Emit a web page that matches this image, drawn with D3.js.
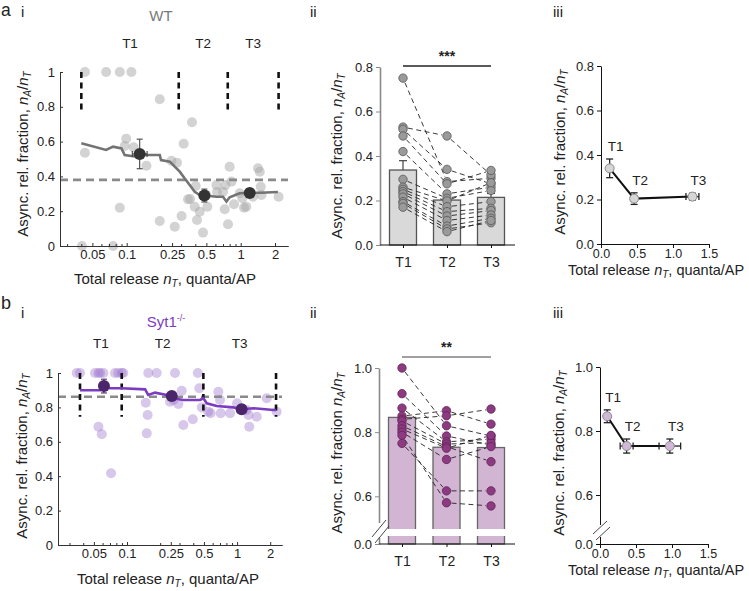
<!DOCTYPE html>
<html><head><meta charset="utf-8">
<script src="https://cdn.jsdelivr.net/npm/d3@7"></script>
<style>
body{margin:0;background:#fff}
text{font-family:"Liberation Sans",Arial,sans-serif;fill:#222}
</style>
</head><body><script>
// ================= DATA =================
const tLabels = ["T1","T2","T3"];

// a-i  WT: individual synapses (total release nT, async fraction)
const wtNT   = [0.043,0.066,0.087,0.110,0.195,0.374,0.316,0.099,0.096,0.115,0.043,0.149,0.247,0.276,0.087,0.195,0.264,0.303,0.414,0.467,0.774,0.0405,0.076,0.345,0.36,0.403,0.395,0.437,0.51,0.612,0.70,0.734,0.80,0.83,0.724,0.873,0.98,1.035,1.07,1.12,1.28,1.42,1.47,1.50,1.52,2.15,0.50,0.62];
const wtFrac = [1,1,1,1,0.843,0.711,0.588,0.617,0.575,0.567,0.536,0.461,0.49,0.479,0.22,0.144,0.111,0.172,0.149,0.077,0.125,0,0,0.268,0.27,0.345,0.226,0.197,0.226,0.35,0.312,0.35,0.456,0.37,0.211,0.24,0.303,0.274,0.22,0.226,0.283,0.447,0.427,0.341,0.293,0.283,0.293,0.31];
// a-i running average
const wtRunNT   = [0.040,0.066,0.076,0.090,0.096,0.122,0.144,0.195,0.20,0.239,0.264,0.292,0.322,0.357,0.395,0.437,0.535,0.612,0.70,0.75,0.80,0.98,1.2,1.5,2.12];
const wtRunFrac = [0.59,0.552,0.571,0.561,0.523,0.513,0.523,0.523,0.494,0.485,0.456,0.427,0.389,0.351,0.312,0.293,0.287,0.283,0.283,0.255,0.28,0.303,0.306,0.306,0.31];
// a-i bin means
const wtMeanNT    = [0.13,0.48,1.2];
const wtMeanFrac  = [0.529,0.29,0.305];
const wtMeanErr   = [0.085,0.037,0.012];
const wtMeanNTLo  = [0.112,0.47,1.17];
const wtMeanNTHi  = [0.151,0.49,1.23];
const wtBounds    = [0.040,0.286,0.77,2.15];
const wtGrandMean = 0.38;

// a-ii WT paired per-cell values
const wtT1 = [0.75,0.53,0.52,0.49,0.42,0.295,0.26,0.25,0.24,0.23,0.215,0.195,0.187,0.17];
const wtT2 = [0.285,0.49,0.34,0.275,0.23,0.21,0.198,0.172,0.15,0.13,0.11,0.085,0.072,0.06];
const wtT3 = [0.30,0.315,0.275,0.335,0.26,0.245,0.28,0.195,0.165,0.155,0.135,0.12,0.10,0.11];
const wtBarMean = [0.337,0.202,0.214];
const wtBarErr  = [0.042,0.028,0.018];

// a-iii WT summary
const wtSumNT      = [0.12,0.46,1.27];
const wtSumNTErr   = [0.01,0.04,0.09];
const wtSumFrac    = [0.34,0.204,0.213];
const wtSumFracErr = [0.042,0.026,0.015];

// b-i Syt1-/- individual synapses
const sytNT   = [0.0349,0.0374,0.0512,0.055,0.057,0.061,0.0778,0.0834,0.0895,0.0925,0.156,0.186,0.273,0.44,0.454,0.314,0.264,0.293,0.246,0.148,0.154,0.151,0.325,0.396,0.478,0.548,0.575,0.676,0.70,0.71,0.864,1.0,1.22,1.27,1.29,1.51,1.86,2.29,0.055,0.059,0.0716];
const sytFrac = [1,1,1,1,1,1,1,1,1,1,1,1,1,1,0.911,0.897,0.843,0.82,0.833,0.827,0.756,0.649,0.698,0.731,0.80,0.775,0.766,0.891,0.843,0.766,0.766,0.824,0.785,0.756,0.688,0.746,0.853,0.775,0.688,0.644,0.417];
const sytRunNT   = [0.0374,0.0569,0.063,0.070,0.0895,0.146,0.156,0.18,0.23,0.264,0.325,0.461,0.494,0.53,0.653,0.925,1.10,1.41,2.14,2.26];
const sytRunFrac = [0.90,0.90,0.924,0.911,0.911,0.905,0.872,0.886,0.872,0.853,0.843,0.843,0.853,0.824,0.808,0.80,0.789,0.795,0.785,0.785];
const sytMeanNT   = [0.0617,0.255,1.10];
const sytMeanFrac = [0.924,0.866,0.789];
const sytMeanErr  = [0.04,0.02,0.012];
const sytMeanNTLo = [0.059,0.245,1.06];
const sytMeanNTHi = [0.064,0.265,1.14];
const sytBounds   = [0.0374,0.0895,0.494,2.26];
const sytGrandMean = 0.862;

// b-ii Syt1-/- paired per-cell values
const sytT1 = [1.0,0.92,0.875,0.85,0.84,0.835,0.82,0.81,0.80,0.79,0.765];
const sytT2 = [0.82,0.788,0.77,0.867,0.851,0.763,0.755,0.75,0.715,0.58,0.617];
const sytT3 = [0.788,0.76,0.778,0.825,0.872,0.767,0.708,0.79,0.755,0.57,0.617];
const sytBarMean = [0.846,0.753,0.752];

// b-iii Syt1-/- summary
const sytSumNT      = [0.10,0.37,0.97];
const sytSumNTErr   = [0.02,0.09,0.15];
const sytSumFrac    = [0.846,0.753,0.753];
const sytSumFracErr = [0.02,0.022,0.022];

const logTicks   = [0.05,0.1,0.25,0.5,1,2];
const logMinor   = [0.03,0.04,0.06,0.07,0.08,0.09,0.2,0.3,0.4,0.6,0.7,0.8,0.9];
const linTicks   = [0,0.5,1,1.5];

// ================= DRAWING =================
const FONT = '"Liberation Sans",Arial,sans-serif';
const svg = d3.select("body").append("svg").attr("width",749).attr("height",591).style("display","block");

function txt(x,y,s,size,anchor,color){
  return svg.append("text").attr("x",x).attr("y",y).attr("text-anchor",anchor||"start")
    .style("font-size",size+"px").style("fill",color||"#222").text(s);
}
txt(1,16,"a",17.5); txt(21,17,"i",15); txt(310,17,"ii",15); txt(553,17,"iii",15);
txt(1,309,"b",18); txt(21,318,"i",15); txt(310,318,"ii",15); txt(553,318,"iii",15);

function fracLabel(x,y,sep){
  const t = svg.append("text").attr("transform",`translate(${x},${y}) rotate(-90)`)
    .attr("text-anchor","middle").style("font-size","15px");
  t.append("tspan").text("Async. rel. fraction"+sep);
  t.append("tspan").style("font-style","italic").text("n");
  t.append("tspan").attr("dy",3).style("font-size","10px").style("font-style","italic").text("A");
  t.append("tspan").attr("dy",-3).text("/");
  t.append("tspan").style("font-style","italic").text("n");
  t.append("tspan").attr("dy",3).style("font-size","10px").style("font-style","italic").text("T");
}
function releaseLabel(x,y,fs){
  const t = svg.append("text").attr("x",x).attr("y",y).attr("text-anchor","middle").style("font-size",(fs||15)+"px");
  t.append("tspan").text("Total release ");
  t.append("tspan").style("font-style","italic").text("n");
  t.append("tspan").attr("dy",3).style("font-size","10px").style("font-style","italic").text("T");
  t.append("tspan").attr("dy",-3).text(", quanta/AP");
}
function styleAxis(g,color,fs){
  g.attr("font-size",fs).attr("font-family",FONT);
  g.select(".domain").attr("stroke",color);
  g.selectAll(".tick line").attr("stroke",color);
}

// ---- log-scale scatter panels (a-i, b-i) ----
function logPanel(o){
  const x = d3.scaleLog().domain(o.xDomain).range(o.xRange);
  const y = d3.scaleLinear().domain([0,1]).range(o.yRange);
  const g = svg.append("g");
  g.selectAll(null).data(o.nt).join("circle")
    .attr("cx",d=>x(d)).attr("cy",(d,i)=>y(o.frac[i])).attr("r",5)
    .attr("fill",o.dotFill).attr("fill-opacity",o.dotOpacity);
  g.append("line").attr("x1",o.xRange[0]).attr("x2",o.xRange[1])
    .attr("y1",y(o.grand)).attr("y2",y(o.grand))
    .attr("stroke","#8a8a8a").attr("stroke-width",2.6).attr("stroke-dasharray","8,5");
  g.selectAll(null).data(o.bounds).join("line")
    .attr("x1",d=>x(d)).attr("x2",d=>x(d)).attr("y1",y(1)).attr("y2",y(o.boundLow))
    .attr("stroke","#111").attr("stroke-width",2.6).attr("stroke-dasharray","6,4.5");
  g.append("path").datum(o.runNT)
    .attr("d",d3.line().x(d=>x(d)).y((d,i)=>y(o.runFrac[i])))
    .attr("fill","none").attr("stroke",o.lineColor).attr("stroke-width",2.6);
  o.meanNT.forEach((m,i)=>{
    const cx=x(m), yl=y(o.meanFrac[i]-o.meanErr[i]), yh=y(o.meanFrac[i]+o.meanErr[i]);
    const cy=y(o.meanFrac[i]), xl=x(o.meanLo[i]), xh=x(o.meanHi[i]);
    const eg=g.append("g").attr("stroke",o.errColor).attr("stroke-width",1.1);
    eg.append("line").attr("x1",cx).attr("x2",cx).attr("y1",yl).attr("y2",yh);
    eg.append("line").attr("x1",cx-3).attr("x2",cx+3).attr("y1",yl).attr("y2",yl);
    eg.append("line").attr("x1",cx-3).attr("x2",cx+3).attr("y1",yh).attr("y2",yh);
    eg.append("line").attr("x1",xl).attr("x2",xh).attr("y1",cy).attr("y2",cy);
    eg.append("line").attr("x1",xl).attr("x2",xl).attr("y1",cy-3).attr("y2",cy+3);
    eg.append("line").attr("x1",xh).attr("x2",xh).attr("y1",cy-3).attr("y2",cy+3);
  });
  g.selectAll(null).data(o.meanNT).join("circle")
    .attr("cx",d=>x(d)).attr("cy",(d,i)=>y(o.meanFrac[i])).attr("r",6).attr("fill",o.meanFill);
  const xa = svg.append("g").attr("transform",`translate(0,${o.yRange[0]})`)
    .call(d3.axisBottom(x).tickValues(logTicks).tickFormat(d=>String(d)).tickSize(-3).tickSizeOuter(0).tickPadding(4));
  styleAxis(xa,"#333",13);
  const xm = svg.append("g").attr("transform",`translate(0,${o.yRange[0]})`)
    .call(d3.axisBottom(x).tickValues(logMinor).tickFormat("").tickSize(-2).tickSizeOuter(0));
  styleAxis(xm,"#333",13);
  const ya = svg.append("g").attr("transform",`translate(${o.xRange[0]},0)`)
    .call(d3.axisLeft(y).tickValues([0,0.2,0.4,0.6,0.8,1]).tickFormat(d=>(d===0||d===1)?String(d):d.toFixed(1)).tickSize(-3).tickSizeOuter(0).tickPadding(5));
  styleAxis(ya,"#333",13);
  tLabels.forEach((t,i)=>{
    txt(x(Math.sqrt(o.bounds[i]*o.bounds[i+1])),o.tY,t,13.5,"middle");
  });
}

logPanel({xDomain:[0.026,2.6],xRange:[60,288],yRange:[246,72],nt:wtNT,frac:wtFrac,
  dotFill:"#a8a8a8",dotOpacity:0.5,grand:wtGrandMean,bounds:wtBounds,boundLow:0.76,
  runNT:wtRunNT,runFrac:wtRunFrac,lineColor:"#737373",meanNT:wtMeanNT,meanFrac:wtMeanFrac,
  meanErr:wtMeanErr,meanLo:wtMeanNTLo,meanHi:wtMeanNTHi,meanFill:"#333",errColor:"#444",tY:48});
txt(161,21,"WT",15,"middle","#7a7a7a");
fracLabel(28,154,", ");
releaseLabel(165,284);

logPanel({xDomain:[0.0236,2.56],xRange:[58,282],yRange:[545,373],nt:sytNT,frac:sytFrac,
  dotFill:"#9f7ad0",dotOpacity:0.42,grand:sytGrandMean,bounds:sytBounds,boundLow:0.745,
  runNT:sytRunNT,runFrac:sytRunFrac,lineColor:"#7b3cc0",meanNT:sytMeanNT,meanFrac:sytMeanFrac,
  meanErr:sytMeanErr,meanLo:sytMeanNTLo,meanHi:sytMeanNTHi,meanFill:"#4b2569",errColor:"#4b2569",tY:348});
{
  const t = svg.append("text").attr("x",166).attr("y",327).attr("text-anchor","middle")
    .style("font-size","15px").style("fill","#7b3cc0");
  t.append("tspan").style("fill","#7b3cc0").text("Syt1");
  t.append("tspan").attr("dy",-6).style("font-size","9px").style("fill","#7b3cc0").text("-/-");
}
fracLabel(27,456,", ");
releaseLabel(168,584);

// ---- paired bar panels (a-ii, b-ii) ----
function barPanel(o){
  const x = d3.scalePoint().domain(tLabels).range(o.xCenters);
  const y = o.y;
  const g = svg.append("g");
  const bw = 27;
  g.selectAll(null).data(o.means).join("rect")
    .attr("x",(d,i)=>x(tLabels[i])-bw/2).attr("width",bw)
    .attr("y",d=>y(d)).attr("height",d=>y(0)-y(d))
    .attr("fill",o.barFill).attr("stroke",o.barStroke).attr("stroke-width",1.3);
  if(o.errs){
    o.errs.forEach((e,i)=>{
      const cx=x(tLabels[i]), y0=y(o.means[i]), y1=y(o.means[i]+e);
      g.append("line").attr("x1",cx).attr("x2",cx).attr("y1",y0).attr("y2",y1).attr("stroke","#444").attr("stroke-width",1.2);
      g.append("line").attr("x1",cx-4).attr("x2",cx+4).attr("y1",y1).attr("y2",y1).attr("stroke","#444").attr("stroke-width",1.2);
    });
  }
  const series=[o.t1,o.t2,o.t3];
  for(let s=0;s<2;s++){
    series[s].forEach((v,i)=>{
      const x1=x(tLabels[s]), y1=y(v), x2=x(tLabels[s+1]), y2=y(series[s+1][i]);
      const L=Math.hypot(x2-x1,y2-y1), ux=(x2-x1)/L, uy=(y2-y1)/L, r=5;
      g.append("line").attr("x1",x1+ux*r).attr("y1",y1+uy*r).attr("x2",x2-ux*r).attr("y2",y2-uy*r)
        .attr("stroke","#222").attr("stroke-width",0.9).attr("stroke-dasharray","5,3.5");
    });
  }
  series.forEach((arr,s)=>{
    g.selectAll(null).data(arr).join("circle").attr("cx",x(tLabels[s])).attr("cy",d=>y(d)).attr("r",4.2)
      .attr("fill",o.ptFill).attr("stroke",o.ptStroke).attr("stroke-width",0.8);
  });
  const ya = svg.append("g").attr("transform",`translate(${o.axisX},0)`)
    .call(d3.axisLeft(y).tickValues(o.yTicks).tickFormat(d3.format(".1f")).tickSize(4).tickSizeOuter(0).tickPadding(3));
  styleAxis(ya,"#8a8a8a",13);
  ya.select(".domain").attr("stroke-width",1.6);
  svg.append("line").attr("x1",o.axisX).attr("x2",o.xEnd).attr("y1",y(0)).attr("y2",y(0)).attr("stroke","#111").attr("stroke-width",1.1);
  const xa = svg.append("g").attr("transform",`translate(0,${y(0)})`)
    .call(d3.axisBottom(x).tickSize(3).tickPadding(9));
  styleAxis(xa,"#111",14);
  xa.select(".domain").remove();
  svg.append("line").attr("x1",x("T1")).attr("x2",x("T3")).attr("y1",o.sigY).attr("y2",o.sigY).attr("stroke",o.sigColor).attr("stroke-width",1.4);
  txt((x("T1")+x("T3"))/2,o.sigY-5,o.sig,14,"middle").style("font-weight","bold");
  if(o.brk){
    svg.append("rect").attr("x",x("T1")-bw/2-2).attr("width",x("T3")-x("T1")+bw+4).attr("y",o.brk[0]).attr("height",o.brk[1]-o.brk[0]).attr("fill","#fff");
    svg.append("rect").attr("x",o.axisX-3).attr("width",6).attr("y",o.brk[0]-6).attr("height",o.brk[1]-o.brk[0]+8).attr("fill","#fff");
    [[0,0],[3,6]].forEach(([dx,dy])=>{
      svg.append("line").attr("x1",o.axisX-7+dx).attr("y1",o.brk[1]+1+dy).attr("x2",o.axisX+7+dx).attr("y2",o.brk[0]-9+dy)
        .attr("stroke","#333").attr("stroke-width",0.9);
    });
  }
}

barPanel({xCenters:[403,491],y:d3.scaleLinear().domain([0,0.8]).range([245,67]),means:wtBarMean,errs:wtBarErr,
  t1:wtT1,t2:wtT2,t3:wtT3,barFill:"#d9d9d9",barStroke:"#555",ptFill:"#9a9a9a",ptStroke:"#555",
  axisX:380,xEnd:515,yTicks:[0,0.2,0.4,0.6,0.8],sigY:66,sig:"***",sigColor:"#222"});
fracLabel(342,156,", ");

barPanel({xCenters:[402,491],y:d3.scaleLinear().domain([0,0.5,1.0]).range([544,528.4,368]),means:sytBarMean,errs:null,
  t1:sytT1,t2:sytT2,t3:sytT3,barFill:"#d2b5d2",barStroke:"#666",ptFill:"#8e3a82",ptStroke:"#5e2456",
  axisX:379,xEnd:515,yTicks:[0,0.6,0.8,1.0],sigY:357,sig:"**",sigColor:"#808080",brk:[529,536]});
fracLabel(342,453," ");

// ---- summary panels (a-iii, b-iii) ----
function sumPanel(o){
  const x = d3.scaleLinear().domain([0,1.5]).range(o.xRange);
  const y = o.y;
  const g = svg.append("g");
  g.append("path").datum(o.nt).attr("d",d3.line().x(d=>x(d)).y((d,i)=>y(o.frac[i])))
    .attr("fill","none").attr("stroke","#111").attr("stroke-width",2);
  o.nt.forEach((m,i)=>{
    const cx=x(m), cy=y(o.frac[i]);
    const yl=y(o.frac[i]-o.fracErr[i]), yh=y(o.frac[i]+o.fracErr[i]);
    const xl=x(m-o.ntErr[i]), xh=x(m+o.ntErr[i]);
    const eg=g.append("g").attr("stroke","#222").attr("stroke-width",1.3);
    eg.append("line").attr("x1",cx).attr("x2",cx).attr("y1",yl).attr("y2",yh);
    eg.append("line").attr("x1",cx-3.5).attr("x2",cx+3.5).attr("y1",yl).attr("y2",yl);
    eg.append("line").attr("x1",cx-3.5).attr("x2",cx+3.5).attr("y1",yh).attr("y2",yh);
    eg.append("line").attr("x1",xl).attr("x2",xh).attr("y1",cy).attr("y2",cy);
    eg.append("line").attr("x1",xl).attr("x2",xl).attr("y1",cy-3.5).attr("y2",cy+3.5);
    eg.append("line").attr("x1",xh).attr("x2",xh).attr("y1",cy-3.5).attr("y2",cy+3.5);
    txt(cx+6,yh-8,tLabels[i],13.5,"middle");
  });
  g.selectAll(null).data(o.nt).join("circle").attr("cx",d=>x(d)).attr("cy",(d,i)=>y(o.frac[i])).attr("r",4.5)
    .attr("fill",o.fill).attr("stroke","#8a8a8a").attr("stroke-width",1);
  const ya = svg.append("g").attr("transform",`translate(${o.xRange[0]},0)`)
    .call(d3.axisLeft(y).tickValues(o.yTicks).tickFormat(d3.format(".1f")).tickSize(4).tickSizeOuter(0).tickPadding(3));
  styleAxis(ya,"#111",13);
  const xa = svg.append("g").attr("transform",`translate(0,${y(0)})`)
    .call(d3.axisBottom(x).tickValues(linTicks).tickFormat(d3.format(".1f")).tickSize(4).tickSizeOuter(0).tickPadding(1));
  styleAxis(xa,"#111",12.5);
  if(o.brk){
    const ax=o.xRange[0];
    svg.append("rect").attr("x",ax-3).attr("width",6).attr("y",o.brk[0]).attr("height",o.brk[1]-o.brk[0]).attr("fill","#fff");
    [[0,0],[3,6]].forEach(([dx,dy])=>{
      svg.append("line").attr("x1",ax-7+dx).attr("y1",o.brk[1]-3+dy).attr("x2",ax+7+dx).attr("y2",o.brk[0]-4+dy)
        .attr("stroke","#333").attr("stroke-width",0.9);
    });
  }
}

sumPanel({xRange:[601,709],y:d3.scaleLinear().domain([0,0.8]).range([244,66]),nt:wtSumNT,ntErr:wtSumNTErr,
  frac:wtSumFrac,fracErr:wtSumFracErr,fill:"#d6d6d6",yTicks:[0,0.2,0.4,0.6,0.8]});
fracLabel(565,152,", ");
releaseLabel(656,275,14.5);

sumPanel({xRange:[600,708],y:d3.scaleLinear().domain([0,0.5,1.0]).range([544,527,367]),nt:sytSumNT,ntErr:sytSumNTErr,
  frac:sytSumFrac,fracErr:sytSumFracErr,fill:"#d2b8d8",yTicks:[0,0.6,0.8,1.0],brk:[525,537]});
fracLabel(564,453,", ");
releaseLabel(656,575,14.5);
</script></body></html>
